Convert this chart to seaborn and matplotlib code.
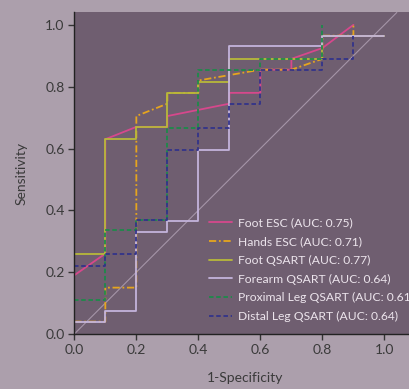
import matplotlib
matplotlib.use("Agg")
import matplotlib.pyplot as plt
import seaborn as sns

# ROC curves (1-specificity, sensitivity)
foot_esc_x = [0, 0.1, 0.1, 0.2, 0.3, 0.3, 0.5, 0.5, 0.6, 0.6, 0.7, 0.7, 0.8, 0.9]
foot_esc_y = [0.19, 0.26, 0.63, 0.67, 0.67, 0.705, 0.745, 0.78, 0.78, 0.855, 0.855, 0.89, 0.925, 1.0]

hands_esc_x = [0, 0.1, 0.1, 0.2, 0.2, 0.3, 0.3, 0.4, 0.4, 0.6, 0.7, 0.8, 0.8, 0.9, 0.9]
hands_esc_y = [0.04, 0.04, 0.15, 0.15, 0.705, 0.745, 0.78, 0.78, 0.82, 0.855, 0.855, 0.89, 0.965, 0.965, 1.0]

foot_qsart_x = [0, 0.1, 0.1, 0.2, 0.2, 0.3, 0.3, 0.4, 0.4, 0.5, 0.5, 0.8, 0.8, 1.0]
foot_qsart_y = [0.26, 0.26, 0.63, 0.63, 0.67, 0.67, 0.78, 0.78, 0.815, 0.815, 0.89, 0.89, 0.965, 0.965]

forearm_x = [0, 0.1, 0.1, 0.2, 0.2, 0.3, 0.3, 0.4, 0.4, 0.5, 0.5, 0.8, 0.8, 1.0]
forearm_y = [0.04, 0.04, 0.075, 0.075, 0.33, 0.33, 0.365, 0.365, 0.595, 0.595, 0.93, 0.93, 0.965, 0.965]

prox_leg_x = [0, 0.1, 0.1, 0.2, 0.2, 0.3, 0.3, 0.4, 0.4, 0.6, 0.6, 0.8, 0.8]
prox_leg_y = [0.11, 0.11, 0.335, 0.335, 0.37, 0.37, 0.665, 0.665, 0.855, 0.855, 0.89, 0.89, 1.0]

dist_leg_x = [0, 0.1, 0.1, 0.2, 0.2, 0.3, 0.3, 0.4, 0.4, 0.5, 0.5, 0.6, 0.6, 0.8, 0.8, 0.9, 0.9]
dist_leg_y = [0.22, 0.22, 0.26, 0.26, 0.37, 0.37, 0.595, 0.595, 0.665, 0.665, 0.745, 0.745, 0.855, 0.855, 0.89, 0.89, 0.965]

labels = ["Foot ESC (AUC: 0.75)", "Hands ESC (AUC: 0.71)", "Foot QSART (AUC: 0.77)",
          "Forearm QSART (AUC: 0.64)", "Proximal Leg QSART (AUC: 0.61)", "Distal Leg QSART (AUC: 0.64)"]

ticks = [0.0, 0.2, 0.4, 0.6, 0.8, 1.0]

sns.set_style("ticks")
plt.rcParams["font.family"] = ["Lato", "DejaVu Sans"]

fig = plt.figure(figsize=(4.09, 3.89), dpi=100, facecolor="#ac9fac")
ax = fig.add_axes([0.1817, 0.1414, 0.834, 0.8265])
ax.set_facecolor("#6f5e70")

ax.axline((0, 0), (1, 1), color="#a595a8", lw=0.8, zorder=1)

curves = [
    (foot_esc_x, foot_esc_y, "#d6488c", "-"),
    (hands_esc_x, hands_esc_y, "#e6a51e", (0, (4, 1.5, 1, 1.5))),
    (foot_qsart_x, foot_qsart_y, "#b8b83a", "-"),
    (forearm_x, forearm_y, "#c4b4dc", "-"),
    (prox_leg_x, prox_leg_y, "#1e8a4a", (0, (2.5, 1.5))),
    (dist_leg_x, dist_leg_y, "#33338a", (0, (2.5, 1.5))),
]
for (xs, ys, col, ls), lab in zip(curves, labels):
    sns.lineplot(x=xs, y=ys, sort=False, estimator=None, ax=ax, color=col,
                 linestyle=ls, lw=1.3, label=lab)

ax.set_xlim(0, 1.1)
ax.set_ylim(0, 1.04)
ax.set_xticks(ticks)
ax.set_yticks(ticks)
ax.set_xticklabels([f"{t:.1f}" for t in ticks])
ax.set_yticklabels([f"{t:.1f}" for t in ticks])
ax.tick_params(axis="both", direction="out", length=4, width=1, color="#333333",
               labelcolor="#3a3a3a", labelsize=10, pad=3)
for s in ["top", "right"]:
    ax.spines[s].set_visible(False)
for s in ["left", "bottom"]:
    ax.spines[s].set_color("#222222")
    ax.spines[s].set_linewidth(1)

ax.set_xlabel("1-Specificity", fontsize=10, color="#3a3a3a", labelpad=12)
ax.set_ylabel("Sensitivity", fontsize=10, color="#3a3a3a", labelpad=13)

leg = ax.legend(loc="upper left", bbox_to_anchor=(207 / 409, 1 - 215 / 389),
                bbox_transform=fig.transFigure, frameon=False, fontsize=8.7,
                handlelength=1.9, handletextpad=0.45, labelspacing=0.64,
                borderpad=0.2, borderaxespad=0)
for t in leg.get_texts():
    t.set_color("#ece4ec")

fig.savefig("out.png", dpi=100, facecolor=fig.get_facecolor())
